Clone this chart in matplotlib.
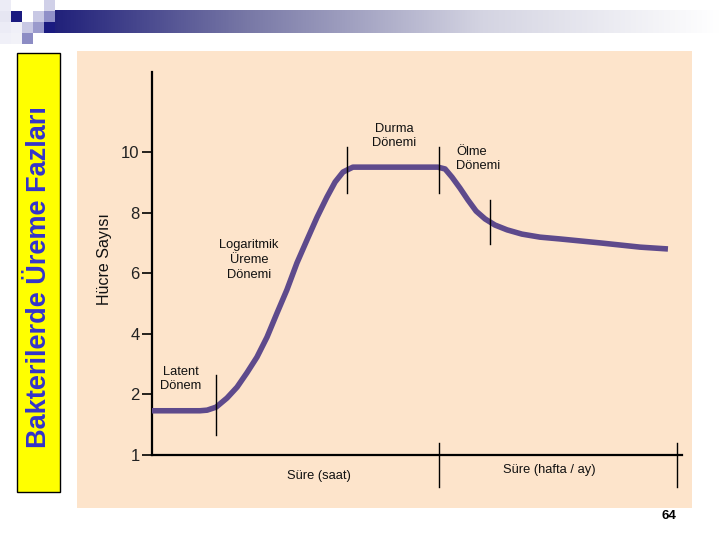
import numpy as np
import matplotlib
matplotlib.use('Agg')
import matplotlib.pyplot as plt
from matplotlib.patches import Rectangle
from matplotlib.colors import LinearSegmentedColormap

plt.rcParams['font.family'] = ['Liberation Sans', 'DejaVu Sans']

# --- data (time in arbitrary units, cell count on the slide's axis) ---
time = [0, 1.43, 1.81, 2.08, 2.42, 2.83, 3.21, 3.58, 3.96, 4.34, 4.72, 5.09,
        5.47, 5.85, 6.23, 6.60, 6.91, 7.21, 7.58, 7.85,
        10.79, 11.06, 11.32, 11.62, 11.92, 12.23, 12.57, 12.94, 13.40, 13.96,
        14.64, 15.40, 16.91, 18.42, 19.47]
cells = [1.73, 1.73, 1.73, 1.74, 1.79, 1.94, 2.24, 2.71, 3.23, 3.89, 4.69, 5.45,
         6.34, 7.10, 7.85, 8.51, 9.01, 9.34, 9.50, 9.50,
         9.50, 9.44, 9.17, 8.81, 8.42, 8.05, 7.79, 7.59, 7.43, 7.29,
         7.19, 7.13, 7.00, 6.86, 6.80]
y_ticks = [1, 2, 4, 6, 8, 10]

# phase boundaries: (time, low, high)
phase_marks = [(2.42, 1.33, 2.64), (7.36, 8.64, 10.16),
               (10.83, 8.64, 10.16), (12.75, 6.96, 8.42)]
axis_breaks = [10.83, 19.81]

phase_labels = [
    ("Latent\nDönem", 181, 379, 'center'),
    ("Logaritmik\nÜreme\nDönemi", 249, 260, 'center'),
    ("Durma\nDönemi", 394, 136, 'center'),
    ("Ölme\nDönemi", 456, 159, 'left'),
]


def fwd(v):
    v = np.asarray(v, dtype=float)
    return np.where(v < 2, v - 1, v / 2)


def inv(p):
    p = np.asarray(p, dtype=float)
    return np.where(p < 1, p + 1, p * 2)


fig = plt.figure(figsize=(7.2, 5.4), dpi=100, facecolor='white')

# slide background layer in pixel coordinates
bg = fig.add_axes([0, 0, 1, 1])
bg.set_xlim(0, 720)
bg.set_ylim(540, 0)
bg.axis('off')

# top gradient bar
cmap = LinearSegmentedColormap.from_list(
    'bar', [(0, '#1c1c78'), (0.3, '#7878a6'), (0.65, '#d4d4e2'), (1, '#ffffff')])
grad = np.linspace(0, 1, 256).reshape(1, -1)
bg.imshow(grad, cmap=cmap, extent=(44, 720, 33, 10), aspect='auto', zorder=1)

# small squares in the corner
squares = [
    (0, 0, '#ececf6'), (0, 11, '#e6e6f2'), (0, 22, '#ececf6'), (0, 33, '#f0f0f8'),
    (11, 11, '#1a1a80'), (11, 22, '#f0f0f8'), (11, 33, '#f2f2f8'),
    (22, 22, '#c8c8e4'), (22, 33, '#8c8cc4'),
    (33, 11, '#c8c8e4'), (33, 22, '#9a9acc'),
    (44, 0, '#d0d0e8'), (44, 11, '#9090c8'), (44, 22, '#1a1a80'),
]
for sx, sy, c in squares:
    bg.add_patch(Rectangle((sx, sy), 11, 11, facecolor=c, edgecolor='none', zorder=2))

# yellow title box
bg.add_patch(Rectangle((17, 53), 43, 439, facecolor='#ffff00', edgecolor='black',
                       linewidth=1, zorder=2))
bg.text(39, 277, "Bakterilerde Üreme Fazları", rotation=90, ha='center', va='center',
        fontsize=19.5, fontweight='bold', color='#3333cc', zorder=3)

# beige panel
bg.add_patch(Rectangle((77, 51), 615, 457, facecolor='#fde4cb', edgecolor='none', zorder=1))

for txt, x, y, ha in phase_labels:
    bg.text(x, y, txt, ha=ha, va='center', fontsize=9.3, linespacing=1.3,
            color='#111111', zorder=3)
bg.text(319, 476, "Süre (saat)", ha='center', va='center', fontsize=9.3, color='#111111')
bg.text(549, 470, "Süre (hafta / ay)", ha='center', va='center', fontsize=9.3, color='#111111')
bg.text(105, 259, "Hücre Sayısı", rotation=90, ha='center', va='center',
        fontsize=11.5, color='#111111')
bg.text(669, 516, "64", ha='center', va='center', fontsize=9.5, fontweight='bold')

# chart
ax = fig.add_axes([152 / 720, 85 / 540, 530 / 720, 383 / 540])
ax.set_facecolor('none')
ax.set_yscale('function', functions=(fwd, inv))
ax.set_xlim(0, 20)
ax.set_ylim(1, 12.64)

ax.plot(time, cells, color='#5e4a8c', linewidth=4, solid_capstyle='butt',
        solid_joinstyle='round', zorder=3)

for t, lo, hi in phase_marks:
    ax.plot([t, t], [lo, hi], color='black', linewidth=1, zorder=4)
for t in axis_breaks:
    ax.plot([t, t], [1.2, 0.47], color='black', linewidth=1, clip_on=False, zorder=4)

ax.set_yticks(y_ticks)
ax.set_yticklabels([str(v) for v in y_ticks])
ax.tick_params(axis='y', length=7, width=1.2, pad=2, labelsize=12, labelcolor='#222222')
ax.set_xticks([])
for s in ('top', 'right'):
    ax.spines[s].set_visible(False)
ax.spines['left'].set_linewidth(1.6)
ax.spines['bottom'].set_linewidth(1.6)

fig.savefig('out.png', dpi=100, facecolor='white')
